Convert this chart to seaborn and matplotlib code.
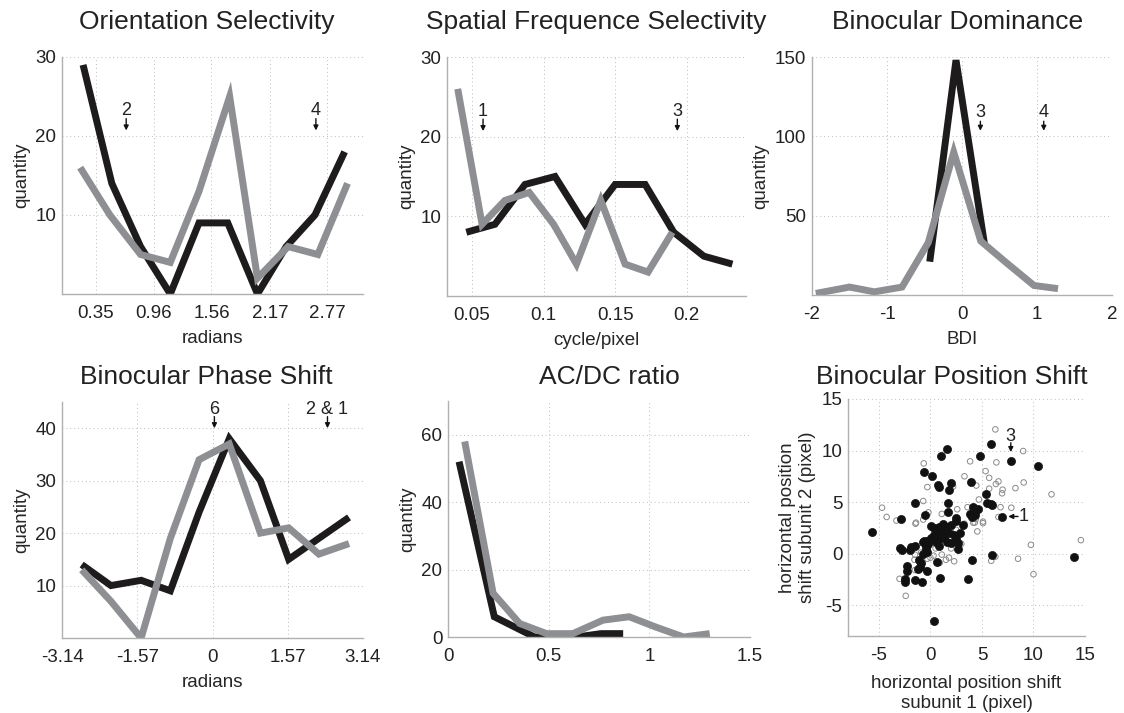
import numpy as np
import pandas as pd
import matplotlib
matplotlib.use("Agg")
import matplotlib.pyplot as plt
import seaborn as sns

# ---------------- data ----------------
# Orientation selectivity
ori_x_black = [0.22, 0.52, 0.82, 1.13, 1.43, 1.73, 2.04, 2.34, 2.64, 2.95]
ori_black = [29, 14, 6, 0, 9, 9, 0, 6, 10, 18]
ori_x_gray = [0.19, 0.50, 0.82, 1.13, 1.43, 1.75, 2.04, 2.36, 2.67, 2.98]
ori_gray = [16, 10, 5, 4, 13, 25, 2, 6, 5, 14]

# Spatial frequency selectivity
sf_x_black = [0.046, 0.066, 0.087, 0.108, 0.129, 0.150, 0.171, 0.191, 0.212, 0.232]
sf_black = [8, 9, 14, 15, 9, 14, 14, 8, 5, 4]
sf_x_gray = [0.040, 0.057, 0.073, 0.090, 0.107, 0.123, 0.140, 0.157, 0.173, 0.190]
sf_gray = [26, 9, 12, 13, 9, 4, 12, 4, 3, 8]

# Binocular dominance
bd_x_black = [-0.43, -0.08, 0.30]
bd_black = [21, 148, 32]
bd_x_gray = [-1.95, -1.50, -1.17, -0.80, -0.45, -0.11, 0.25, 0.60, 0.96, 1.28]
bd_gray = [1, 5, 2, 5, 33, 90, 34, 20, 6, 4]

# Binocular phase shift
ps_x = [-2.73, -2.12, -1.49, -0.88, -0.28, 0.35, 1.00, 1.59, 2.22, 2.85]
ps_black = [14, 10, 11, 9, 24, 38, 30, 15, 19, 23]
ps_gray = [13, 7, 0, 19, 34, 37, 20, 21, 16, 18]

# AC/DC ratio
ac_x_black = [0.055, 0.23, 0.33, 0.43, 0.54, 0.64, 0.76, 0.87]
ac_black = [52, 6, 3, 0, 0, 0, 1, 1]
ac_x_gray = [0.083, 0.224, 0.356, 0.49, 0.62, 0.77, 0.90, 1.03, 1.17, 1.30]
ac_gray = [58, 13, 4, 1, 1, 5, 6, 3, 0, 1]

# Binocular position shift (filled = black dots, open = gray circles)
filled_x = [1.6, 1.0, -0.65, 0.15, 0.7, 0.85, 2.0, 1.85, -1.5, 1.75, -2.9, -0.5, 1.75,
            5.85, 4.85, 7.85, 10.4, 3.95, 5.35, 5.5, 5.85, 6.0, 4.1, 4.4, 4.65, 3.8, 4.0,
            4.3, 6.9, 2.45, 2.5, 3.15,
            0.3, 0.8, 1.0, 1.2, 1.5, 1.8, 2.0, 2.3, 0.6, 0.9, 1.3, 1.6, 2.0, 2.5, 2.7,
            2.9, 2.7, 1.1, 0.1, 0.5, 0.8, -0.2, -0.6, -0.4, -0.7,
            -5.65, -3.0, -2.75, -2.0, -1.85, -1.5, -0.7, -0.45, -0.35, -0.3, 0.35, 0.8,
            1.0, 0.6, 0.1, -1.1, -0.95, -1.05, -1.2, -0.35, -2.3, -2.25, -2.5, -2.45,
            -1.5, -0.85, 0.6, 0.9, 0.3,
            4.05, 5.95, 3.6, 13.9]
filled_y = [10.1, 9.5, 7.95, 7.55, 6.65, 6.5, 6.8, 6.15, 4.9, 4.95, 3.35, 3.7, 4.05,
            10.65, 9.45, 8.95, 8.5, 6.95, 5.8, 4.95, 4.85, 4.75, 4.5, 4.2, 4.3, 3.8, 3.55,
            3.7, 3.55, 3.45, 3.2, 2.75,
            2.5, 2.6, 2.2, 2.9, 2.6, 2.0, 2.8, 1.8, 1.9, 1.5, 1.6, 1.1, 1.0, 1.4, 1.0,
            2.0, 0.4, 1.9, 1.5, 1.1, 0.7, 0.9, 1.2, 0.4, 0.0,
            2.05, 0.5, 0.35, 0.35, 0.6, 0.75, 1.1, 0.7, 0.2, 1.25, 1.8, 2.25,
            1.5, 2.4, 2.65, -0.6, -0.9, -1.3, -1.5, -1.7, -1.25, -1.7, -2.5, -2.8,
            -2.6, -2.75, -0.85, -2.4, -6.5,
            -0.6, -0.15, -2.45, -0.3]
open_x = [6.3, 9.0, 3.85, 6.4, 5.35, 3.3, 5.7, 6.6, 6.35, 9.05, 4.45, 7.0, 6.95, 8.25,
          5.7, 11.75, 4.7, 6.8, 7.85, 5.1, 4.15, 4.4, 6.6,
          -0.65, -0.3, -4.7, -4.25, -3.3, -0.7, -0.2, -1.45, 1.1, 2.2,
          -2.4, -3.0, -1.5, -1.55, 0.0, 0.3, 0.9, 1.1, 1.8, -1.5, -0.9, -0.4, -0.9, 0.5,
          -0.3, -1.4, -0.7,
          2.3, 5.9, 6.3, 8.5, 9.75, 10.0, 14.6, 3.0, 4.55, 3.3, 4.3, 5.1, 2.0, 1.5, 2.5,
          3.6, 2.6]
open_y = [12.05, 9.95, 8.95, 8.85, 8.0, 7.5, 7.35, 7.0, 6.75, 6.9, 6.6, 6.2, 5.85, 6.35,
          6.3, 5.75, 5.25, 4.5, 4.45, 3.1, 3.0, 3.35, 3.55,
          8.75, 6.45, 4.45, 3.55, 3.2, 5.1, 4.0, 2.9, 3.85, 6.5,
          -4.1, -2.45, -0.1, -0.6, -0.4, -0.2, -0.9, -0.1, -0.4, -1.6, -1.4, -1.6, 0.1, 0.5,
          -0.5, 3.0, 3.3,
          -0.75, -0.7, -0.3, -0.5, 0.85, -2.0, 1.3, 0.95, 2.15, 2.9, 3.0, 2.95, 0.5, -0.6, 2.3,
          4.5, 4.3]

ori_ticks = [0.35, 0.96, 1.56, 2.17, 2.77]
ps_ticks = [-3.14, -1.57, 0, 1.57, 3.14]

# ---------------- style ----------------
sns.set_theme(style="white")
plt.rcParams["font.family"] = ["Liberation Sans", "DejaVu Sans"]
plt.rcParams["axes.unicode_minus"] = False

BLACK = "#1e1b1c"
GRAY = "#8e8f92"
SPINE = "#b0b0b0"
LW = 5.0
TICK_FS = 13.5
LAB_FS = 13.5
TITLE_FS = 19
ANN_FS = 13

W, H = 1124, 713
fig = plt.figure(figsize=(W / 100, H / 100), dpi=100)


def make_ax(l, r, t, b):
    return fig.add_axes([l / W, 1 - b / H, (r - l) / W, (b - t) / H])


def style(ax):
    for s in ["top", "right"]:
        ax.spines[s].set_visible(False)
    for s in ["left", "bottom"]:
        ax.spines[s].set_color(SPINE)
        ax.spines[s].set_linewidth(1.0)
    ax.grid(True, linestyle=(0, (1, 3)), color="#bcbcbc", linewidth=0.7)
    ax.tick_params(axis="x", length=0, labelsize=TICK_FS, colors="#222222", pad=8)
    ax.tick_params(axis="y", length=0, labelsize=TICK_FS, colors="#222222", pad=4)
    ax.set_axisbelow(True)


def lines(ax, xb, yb, xg, yg):
    sns.lineplot(x=xb, y=yb, ax=ax, color=BLACK, linewidth=LW, solid_joinstyle="miter",
                 solid_capstyle="butt", estimator=None, sort=False)
    sns.lineplot(x=xg, y=yg, ax=ax, color=GRAY, linewidth=LW, solid_joinstyle="miter",
                 solid_capstyle="butt", estimator=None, sort=False)


def mark(ax, x, ytext, ytail, ytip, label):
    ax.text(x, ytext, label, ha="center", va="baseline", fontsize=ANN_FS, color="#222222")
    ax.annotate("", xy=(x, ytip), xytext=(x, ytail),
                arrowprops=dict(arrowstyle="-|>", color="#111111", lw=1.0,
                                mutation_scale=7, shrinkA=0, shrinkB=0))


# Panel 1
ax1 = make_ax(62, 363, 57, 294)
style(ax1)
lines(ax1, ori_x_black, ori_black, ori_x_gray, ori_gray)
ax1.set_xlim(0, np.pi)
ax1.set_ylim(0, 30)
ax1.set_xticks(ori_ticks)
ax1.set_xticklabels(["0.35", "0.96", "1.56", "2.17", "2.77"])
ax1.set_yticks([10, 20, 30])
ax1.set_xlabel("radians", fontsize=LAB_FS, labelpad=6)
ax1.set_ylabel("quantity", fontsize=LAB_FS)
mark(ax1, 0.67, 22.6, 22.2, 20.7, "2")
mark(ax1, 2.65, 22.6, 22.2, 20.7, "4")

# Panel 2
ax2 = make_ax(447, 746, 57, 296)
style(ax2)
lines(ax2, sf_x_black, sf_black, sf_x_gray, sf_gray)
ax2.set_xlim(0.0325, 0.2415)
ax2.set_ylim(0, 30)
ax2.set_xticks([0.05, 0.1, 0.15, 0.2])
ax2.set_xticklabels(["0.05", "0.1", "0.15", "0.2"])
ax2.set_yticks([10, 20, 30])
ax2.set_xlabel("cycle/pixel", fontsize=LAB_FS, labelpad=6)
ax2.set_ylabel("quantity", fontsize=LAB_FS)
mark(ax2, 0.0577, 22.6, 22.2, 20.7, "1")
mark(ax2, 0.1935, 22.6, 22.2, 20.7, "3")

# Panel 3
ax3 = make_ax(812, 1112, 57, 295)
style(ax3)
lines(ax3, bd_x_black, bd_black, bd_x_gray, bd_gray)
ax3.set_xlim(-2, 2)
ax3.set_ylim(0, 150)
ax3.set_xticks([-2, -1, 0, 1, 2])
ax3.set_yticks([50, 100, 150])
ax3.set_xlabel("BDI", fontsize=LAB_FS, labelpad=6)
ax3.set_ylabel("quantity", fontsize=LAB_FS)
mark(ax3, 0.245, 112, 109.5, 103.5, "3")
mark(ax3, 1.09, 112, 109.5, 103.5, "4")

# Panel 4
ax4 = make_ax(62, 363, 402, 638)
style(ax4)
lines(ax4, ps_x, ps_black, ps_x, ps_gray)
ax4.set_xlim(-np.pi, np.pi)
ax4.set_ylim(0, 45)
ax4.set_xticks(ps_ticks)
ax4.set_xticklabels(["-3.14", "-1.57", "0", "1.57", "3.14"])
ax4.set_yticks([10, 20, 30, 40])
ax4.set_xlabel("radians", fontsize=LAB_FS, labelpad=6)
ax4.set_ylabel("quantity", fontsize=LAB_FS)
mark(ax4, 0.04, 42.8, 42.2, 40.0, "6")
mark(ax4, 2.40, 42.8, 42.2, 40.0, "2 & 1")

# Panel 5
ax5 = make_ax(448, 750, 401, 637)
style(ax5)
lines(ax5, ac_x_black, ac_black, ac_x_gray, ac_gray)
ax5.set_xlim(0, 1.5)
ax5.set_ylim(0, 70)
ax5.set_xticks([0, 0.5, 1, 1.5])
ax5.set_xticklabels(["0", "0.5", "1", "1.5"])
ax5.set_yticks([0, 20, 40, 60])
ax5.set_ylabel("quantity", fontsize=LAB_FS)
ax5.set_xlabel("")

# Panel 6
ax6 = make_ax(848, 1085, 399, 636)
style(ax6)
sns.scatterplot(x=open_x, y=open_y, ax=ax6, marker="o", s=16, facecolor="none",
                edgecolor="#8a8a8a", linewidth=0.7)
sns.scatterplot(x=filled_x, y=filled_y, ax=ax6, marker="o", s=34, color="#111111",
                edgecolor="#111111", linewidth=0.5)
ax6.set_xlim(-8, 15)
ax6.set_ylim(-8, 15)
ax6.set_xticks([-5, 0, 5, 10, 15])
ax6.set_yticks([-5, 0, 5, 10, 15])
ax6.set_xlabel("horizontal position shift\nsubunit 1 (pixel)", fontsize=LAB_FS,
               linespacing=1.2, labelpad=8)
ax6.set_ylabel("horizontal position\nshift subunit 2 (pixel)", fontsize=LAB_FS,
               linespacing=1.2)
ax6.text(7.8, 10.95, "3", ha="center", va="baseline", fontsize=ANN_FS, color="#222222")
ax6.annotate("", xy=(7.8, 9.85), xytext=(7.8, 10.75),
             arrowprops=dict(arrowstyle="-|>", color="#111111", lw=1.0, mutation_scale=7,
                             shrinkA=0, shrinkB=0))
ax6.annotate("", xy=(7.55, 3.6), xytext=(8.5, 3.6),
             arrowprops=dict(arrowstyle="-|>", color="#111111", lw=1.0, mutation_scale=7,
                             shrinkA=0, shrinkB=0))
ax6.text(8.55, 3.6, "1", ha="left", va="center", fontsize=ANN_FS, color="#222222")

# Titles (baseline-aligned)
titles = [("Orientation Selectivity", 207, 29), ("Spatial Frequence Selectivity", 596, 29),
          ("Binocular Dominance", 958, 29), ("Binocular Phase Shift", 206, 384),
          ("AC/DC ratio", 609, 384), ("Binocular Position Shift", 952, 384)]
for t, x, y in titles:
    fig.text(x / W, 1 - y / H, t, ha="center", va="baseline", fontsize=TITLE_FS,
             color="#222222")

fig.savefig("out.png", dpi=100)
